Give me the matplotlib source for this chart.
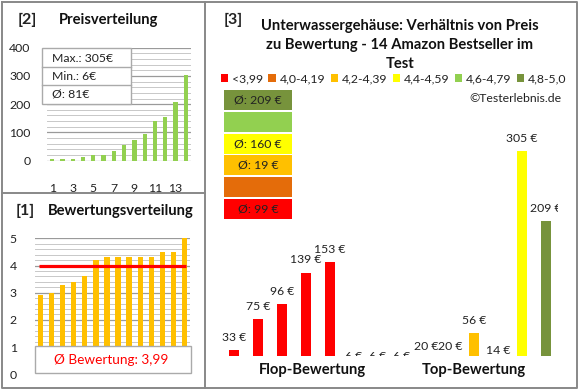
import matplotlib
matplotlib.use('Agg')
import matplotlib.pyplot as plt
from matplotlib.patches import Rectangle, Patch
from matplotlib.lines import Line2D
import numpy as np

plt.rcParams['font.family'] = ['Lato', 'DejaVu Sans']

# ---------------- data ----------------
positions = list(range(1, 15))
prices = [6, 6, 6, 14, 20, 20, 33, 56, 75, 96, 139, 153, 209, 305]
price_ticks = [0, 100, 200, 300, 400]
price_xticks = [1, 3, 5, 7, 9, 11, 13]
price_stats = ['Max.: 305€', 'Min.: 6€', 'Ø: 81€']

ratings = [2.9, 3.0, 3.3, 3.4, 3.6, 4.2, 4.3, 4.3, 4.3, 4.3, 4.3, 4.5, 4.5, 5.0]
avg_rating = 3.99
rating_ticks = [0, 1, 2, 3, 4, 5]
rating_text = 'Ø Bewertung: 3,99'

group_prices = [33, 75, 96, 139, 153, 6, 6, 6, 20, 20, 56, 14, 305, 209]
group_index = [0, 0, 0, 0, 0, 2, 2, 2, 2, 2, 2, 3, 3, 5]
legend_labels = ['<3,99', '4,0-4,19', '4,2-4,39', '4,4-4,59', '4,6-4,79', '4,8-5,0']
legend_colors = ['#FF0000', '#E46C0A', '#FFC000', '#FFFF00', '#92D050', '#77933C']
group_avgs = ['Ø: 99 €', '', 'Ø: 19 €', 'Ø: 160 €', '', 'Ø: 209 €']
category_labels = ['Flop-Bewertung', 'Top-Bewertung']

title3 = ['Unterwassergehäuse: Verhältnis von Preis',
          'zu Bewertung - 14 Amazon Bestseller im',
          'Test']

# ---------------- figure ----------------
W, H = 580, 390
fig = plt.figure(figsize=(W / 100, H / 100), dpi=100)
fig.patch.set_facecolor('white')


def add_ax(x0, y0, x1, y1):
    return fig.add_axes([x0 / W, 1 - y1 / H, (x1 - x0) / W, (y1 - y0) / H])


def ftext(x, y, s, **kw):
    kw.setdefault('ha', 'center')
    kw.setdefault('va', 'center')
    return fig.text(x / W, 1 - y / H, s, **kw)


def fline(xs, ys, **kw):
    fig.add_artist(Line2D([x / W for x in xs], [1 - y / H for y in ys],
                          transform=fig.transFigure, **kw))


def frect(x0, y0, x1, y1, **kw):
    fig.add_artist(Rectangle((x0 / W, 1 - y1 / H), (x1 - x0) / W, (y1 - y0) / H,
                             transform=fig.transFigure, **kw))


border = '#888888'
# panel frames
fline([1.5, 577, 577, 1.5, 1.5], [1.5, 1.5, 387.5, 387.5, 1.5], color=border, lw=1.4)
fline([205.3, 205.3], [1.5, 387.5], color=border, lw=1.4)
fline([1.5, 205.3], [192.5, 192.5], color=border, lw=1.4)

major_grid = '#9A9A9A'
minor_grid = '#C8C8C8'


def style_grid(ax, minor_step, xlim):
    ax.set_axisbelow(True)
    ax.grid(axis='y', which='major', color=major_grid, lw=0.9)
    ax.yaxis.set_minor_locator(matplotlib.ticker.MultipleLocator(minor_step))
    ax.grid(axis='y', which='minor', color=minor_grid, lw=0.7)
    ax.grid(axis='x', visible=False)
    for s in ax.spines.values():
        s.set_visible(False)
    ax.tick_params(which='both', length=0)
    ax.set_xlim(*xlim)
    ax.set_facecolor('none')


# ---------------- panel [2] ----------------
ax2 = add_ax(47, 47.7, 191, 160.7)
ax2.bar(positions, prices, width=0.42, color='#92D050', zorder=2)
ax2.set_ylim(0, 400)
ax2.set_yticks(price_ticks)
ax2.set_xticks(price_xticks)
style_grid(ax2, 20, (0.5, 14.5))
ax2.tick_params(axis='y', labelsize=8.8, pad=12)
ax2.tick_params(axis='x', labelsize=8.8, pad=16)
ax2.set_yticklabels([str(t) for t in price_ticks], color='#222222')
ax2.set_xticklabels([str(t) for t in price_xticks], color='#222222')

ftext(27, 20, '[2]', fontsize=11.5, fontweight='bold', color='#222222')
ftext(109, 20, 'Preisverteilung', fontsize=10.6, fontweight='bold', color='#111111')

# info box
frect(42, 48.3, 130.5, 104, facecolor='white', edgecolor='#AAAAAA', lw=1.0, zorder=5)
fline([42, 130.5], [66.7, 66.7], color='#AAAAAA', lw=1.0, zorder=6)
fline([42, 130.5], [85, 85], color='#AAAAAA', lw=1.0, zorder=6)
for yy, s in zip([58.5, 77, 94.5], price_stats):
    ftext(52, yy, s, ha='left', fontsize=8.8, color='#222222', zorder=7)

# ---------------- panel [1] ----------------
ax1 = add_ax(35, 238.3, 190, 374.3)
ax1.bar(positions, ratings, width=0.48, color='#FFC000', zorder=2)
ax1.plot([0.86, 14.14], [avg_rating, avg_rating], color='#FF0000', lw=2.3, zorder=3,
         solid_capstyle='butt')
ax1.set_ylim(0, 5)
ax1.set_yticks(rating_ticks)
ax1.set_xticks([])
style_grid(ax1, 0.2, (0.5, 14.5))
ax1.tick_params(axis='y', labelsize=8.8, pad=13)
ax1.set_yticklabels([str(t) for t in rating_ticks], color='#222222')

ftext(25, 211, '[1]', fontsize=11.5, fontweight='bold', color='#222222')
ftext(121, 211, 'Bewertungsverteilung', fontsize=10.6, fontweight='bold', color='#111111')

frect(35, 346, 190.5, 372.5, facecolor='white', edgecolor='#AAAAAA', lw=1.0, zorder=5)
ftext(111, 359.5, rating_text, fontsize=9.8, color='#FF0000', zorder=7)

# ---------------- panel [3] ----------------
ax3 = add_ax(222, 100, 558, 355.7)
bar_cols = [legend_colors[g] for g in group_index]
ax3.bar(positions, group_prices, width=0.42, color=bar_cols, zorder=2)
ax3.set_ylim(25.2, 375)
ax3.set_xlim(0.5, 14.5)
ax3.axis('off')
for x, v in zip(positions, group_prices):
    ax3.annotate(f'{v} €', xy=(x, v), xytext=(0, 9.3), textcoords='offset points',
                 ha='center', va='center', fontsize=8.8, color='#222222',
                 annotation_clip=False, clip_on=True)

ftext(233, 20, '[3]', fontsize=11.5, fontweight='bold', color='#222222')
for yy, s in zip([26, 45.5, 64.5], title3):
    ftext(400, yy, s, fontsize=10.6, fontweight='bold', color='#111111')

handles = [Patch(facecolor=c, edgecolor='none') for c in legend_colors]
fig.legend(handles, legend_labels, ncol=6, loc='center',
           bbox_to_anchor=(393.5 / W, 1 - 78.5 / H), frameon=False,
           fontsize=8.8, handlelength=0.6, handleheight=0.6, handletextpad=0.3,
           columnspacing=0.45, borderpad=0, borderaxespad=0, labelcolor='#222222')

ftext(562, 98, '©Testerlebnis.de', ha='right', fontsize=8.8, color='#222222')

# average boxes, top = highest rating class
for k, gi in enumerate(reversed(range(len(legend_colors)))):
    top = 90 + k * 21.8
    frect(224, top, 292, top + 20, facecolor=legend_colors[gi], edgecolor='none', zorder=4)
    if group_avgs[gi]:
        ftext(258, top + 10, group_avgs[gi], fontsize=8.8, color='#222222', zorder=6)

ftext(312, 370, category_labels[0], fontsize=10.6, fontweight='bold', color='#111111')
ftext(474, 370, category_labels[1], fontsize=10.6, fontweight='bold', color='#111111')

fig.savefig('out.png', dpi=100, facecolor='white')
